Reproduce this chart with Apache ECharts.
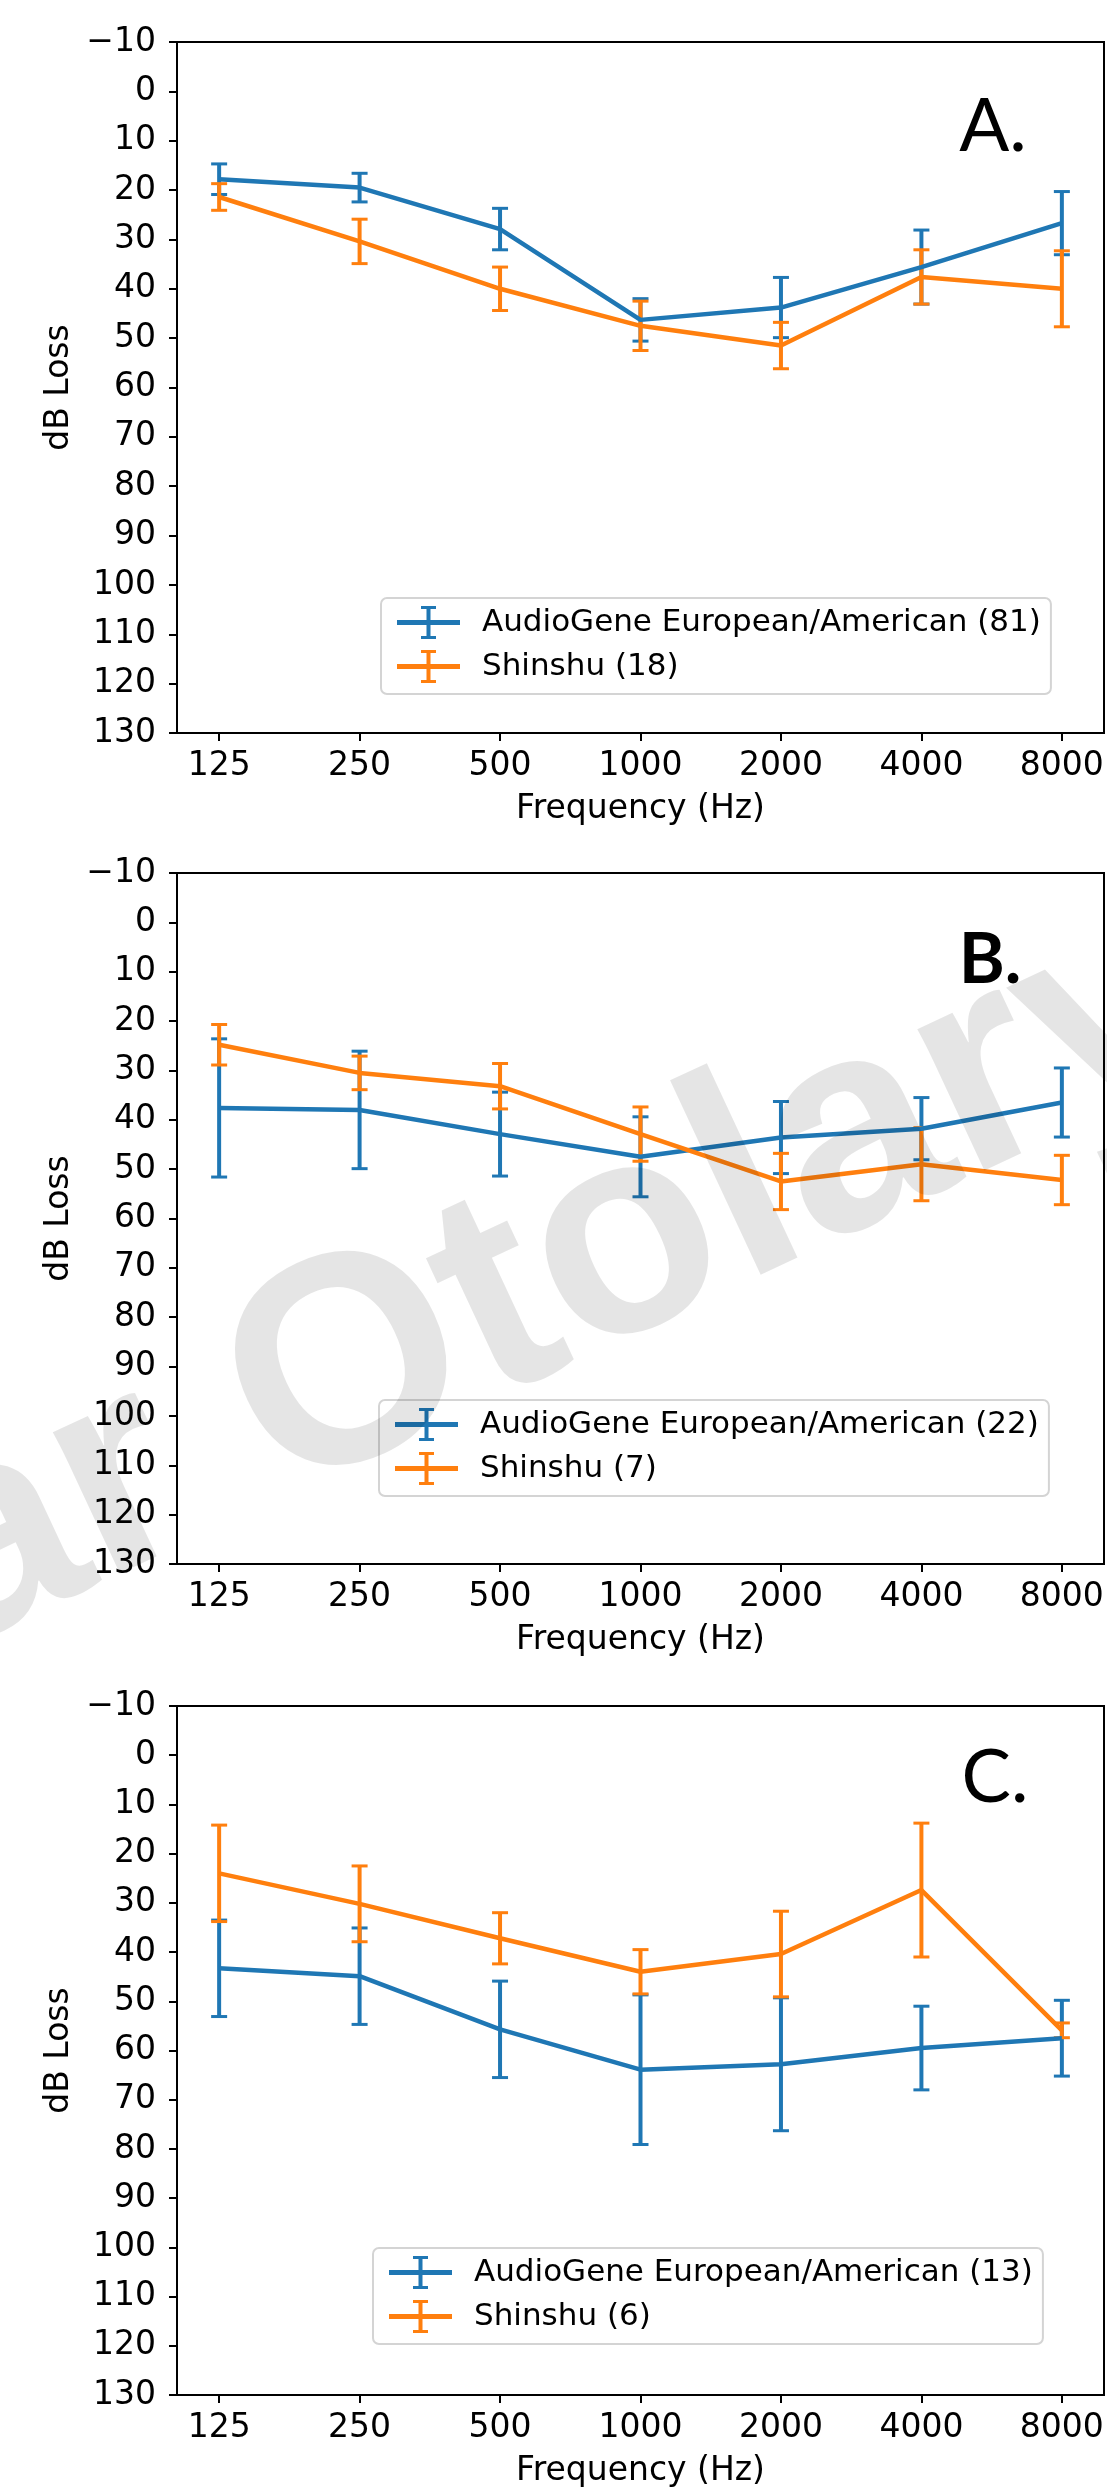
<!DOCTYPE html>
<html>
<head>
<meta charset="utf-8">
<script src="https://cdn.jsdelivr.net/npm/echarts@6/dist/echarts.min.js"></script>
<style>
  body { margin: 0; background: #fff; }
  #chart { width: 1107px; height: 2489px; }
</style>
</head>
<body>
<div id="chart"></div>
<script>
// frequencies on the x axis (evenly spaced, index 0..6)
const freqLabels = ['125', '250', '500', '1000', '2000', '4000', '8000'];
const yTicks = [-10, 0, 10, 20, 30, 40, 50, 60, 70, 80, 90, 100, 110, 120, 130];

// panel A
const audioA = [17.8, 19.5, 27.9, 46.3, 43.8, 35.6, 26.7];
const audioAErr = [3.1, 2.9, 4.2, 4.3, 6.1, 7.5, 6.4];
const shinA = [21.4, 30.4, 40.0, 47.5, 51.5, 37.6, 40.0];
const shinAErr = [2.7, 4.5, 4.4, 5.0, 4.7, 5.5, 7.7];

// panel B
const audioB = [37.6, 38.0, 42.9, 47.5, 43.6, 41.8, 36.5];
const audioBErr = [14.0, 11.9, 8.5, 8.1, 7.3, 6.3, 7.0];
const shinB = [24.8, 30.5, 33.2, 42.9, 52.5, 49.0, 52.2];
const shinBErr = [4.1, 3.4, 4.6, 5.5, 5.7, 7.4, 5.0];

// panel C
const audioC = [43.3, 44.9, 55.7, 63.9, 62.8, 59.5, 57.5];
const audioCErr = [9.8, 9.8, 9.8, 15.2, 13.5, 8.5, 7.7];
const shinC = [24.0, 30.2, 37.2, 44.0, 40.4, 27.4, 55.9];
const shinCErr = [9.8, 7.7, 5.2, 4.5, 8.7, 13.6, 1.5];

const panels = [
  { letter: 'A.', audio: audioA, audioErr: audioAErr, shin: shinA, shinErr: shinAErr,
    audioName: 'AudioGene European/American (81)', shinName: 'Shinshu (18)' },
  { letter: 'B.', audio: audioB, audioErr: audioBErr, shin: shinB, shinErr: shinBErr,
    audioName: 'AudioGene European/American (22)', shinName: 'Shinshu (7)' },
  { letter: 'C.', audio: audioC, audioErr: audioCErr, shin: shinC, shinErr: shinCErr,
    audioName: 'AudioGene European/American (13)', shinName: 'Shinshu (6)' }
];

const BLUE = '#1f77b4';
const ORANGE = '#ff7f0e';
const FONT = '"DejaVu Sans", sans-serif';
const gridTops = [42, 873, 1706];
const legendPos = [[381, 598], [379, 1400], [373, 2248]];
const letterPos = [[993, 127, 74, 'normal'], [990, 960, 70, 'bold'], [995, 1778, 74, 'normal']];
const legendIcon = 'path://M0,14h63v5H0z M29.5,0h4v33h-4z M24,0h15v3H24z M24,30h15v3H24z';

function errBars(color) {
  return function (params, api) {
    const x = api.value(0);
    const lo = api.coord([x, api.value(1)]);
    const hi = api.coord([x, api.value(2)]);
    const cw = 8;
    const st = { stroke: color, lineWidth: 4 };
    const cap = { stroke: color, lineWidth: 3 };
    return {
      type: 'group',
      children: [
        { type: 'line', shape: { x1: lo[0], y1: lo[1], x2: hi[0], y2: hi[1] }, style: st },
        { type: 'line', shape: { x1: lo[0] - cw, y1: lo[1], x2: lo[0] + cw, y2: lo[1] }, style: cap },
        { type: 'line', shape: { x1: hi[0] - cw, y1: hi[1], x2: hi[0] + cw, y2: hi[1] }, style: cap }
      ]
    };
  };
}

const grid = [], xAxis = [], yAxis = [], series = [], legend = [], graphic = [];
const idx = freqLabels.map((f, i) => i);

panels.forEach((p, k) => {
  grid.push({ left: 177, top: gridTops[k], width: 927, height: 691,
    show: true, borderColor: '#000', borderWidth: 2, backgroundColor: 'transparent' });
  xAxis.push({
    type: 'value', gridIndex: k, min: -0.3, max: 6.3,
    name: 'Frequency (Hz)', nameLocation: 'middle', nameGap: 60,
    nameTextStyle: { fontSize: 33, color: '#000', fontFamily: FONT },
    axisLine: { onZero: false, lineStyle: { color: '#000', width: 2 } },
    axisTick: { show: true, customValues: idx, length: 8, lineStyle: { color: '#000', width: 2 } },
    axisLabel: { customValues: idx, margin: 17, fontSize: 33, color: '#000', fontFamily: FONT,
      formatter: v => freqLabels[Math.round(v)] },
    splitLine: { show: false }
  });
  yAxis.push({
    type: 'value', gridIndex: k, inverse: true, min: -10, max: 130, interval: 10,
    name: 'dB Loss', nameLocation: 'middle', nameGap: 98, nameRotate: 90,
    nameTextStyle: { fontSize: 33, color: '#000', fontFamily: FONT },
    axisLine: { show: true, onZero: false, lineStyle: { color: '#000', width: 2 } },
    axisTick: { show: true, length: 8, lineStyle: { color: '#000', width: 2 } },
    axisLabel: { margin: 21, fontSize: 33, color: '#000', fontFamily: FONT,
      formatter: v => (v < 0 ? '\u2212' + Math.abs(v) : String(v)) },
    splitLine: { show: false }
  });

  const groups = [
    { name: p.audioName, vals: p.audio, err: p.audioErr, color: BLUE },
    { name: p.shinName, vals: p.shin, err: p.shinErr, color: ORANGE }
  ];
  groups.forEach(g => {
    series.push({
      type: 'line', name: g.name, xAxisIndex: k, yAxisIndex: k,
      data: g.vals.map((v, i) => [i, v]),
      symbol: 'none', color: g.color,
      itemStyle: { color: g.color },
      lineStyle: { color: g.color, width: 4.5 }
    });
    series.push({
      type: 'custom', xAxisIndex: k, yAxisIndex: k,
      data: g.vals.map((v, i) => [i, v - g.err[i], v + g.err[i]]),
      encode: { x: 0, y: [1, 2] },
      renderItem: errBars(g.color)
    });
  });

  legend.push({
    orient: 'vertical', left: legendPos[k][0], top: legendPos[k][1],
    padding: [8, 10, 11, 16], itemGap: 11, itemWidth: 63, itemHeight: 33,
    backgroundColor: '#fff', borderColor: '#d4d4d4', borderWidth: 2, borderRadius: 6,
    selectedMode: false,
    textStyle: { fontSize: 31, color: '#000', fontFamily: FONT, lineHeight: 33, padding: [0, 0, 0, 17] },
    data: groups.map(g => ({ name: g.name, icon: legendIcon, itemStyle: { color: g.color } }))
  });

  const lp = letterPos[k];
  graphic.push({
    type: 'text', x: lp[0], y: lp[1], silent: true,
    style: { text: p.letter, fill: '#000', align: 'center', verticalAlign: 'middle',
      font: lp[3] + ' ' + lp[2] + 'px Lato, "Noto Sans", sans-serif' }
  });
});

// faint watermark over the middle panel
graphic.push({
  type: 'text', x: -20, y: 1712, rotation: 25 * Math.PI / 180, z: 100, silent: true,
  style: { text: 'ar Otolaryngology', fill: 'rgba(0,0,0,0.1)', align: 'left', verticalAlign: 'bottom',
    font: 'bold 296px "Liberation Sans", sans-serif' }
});

const chart = echarts.init(document.getElementById('chart'));
chart.setOption({
  animation: false,
  backgroundColor: '#fff',
  grid, xAxis, yAxis, series, legend, graphic
});
</script>
</body>
</html>
